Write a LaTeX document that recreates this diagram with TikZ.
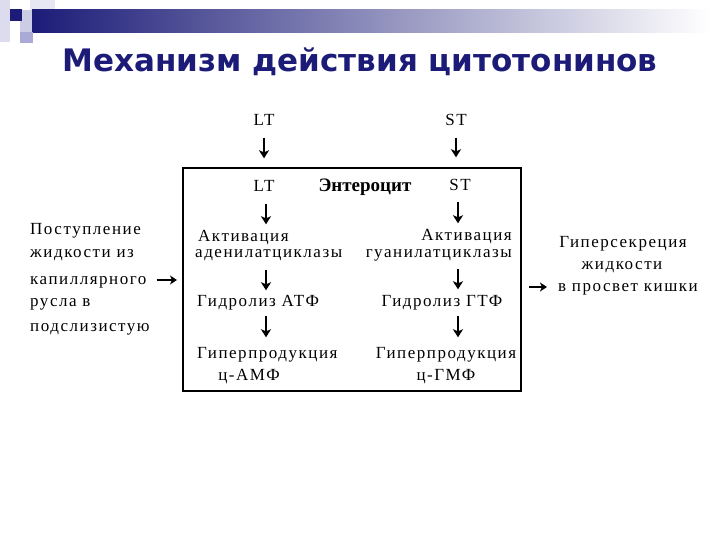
\documentclass[tikz,border=0pt]{standalone}
\usepackage{fontspec}
\setmainfont{Liberation Serif}
\newfontfamily\widefont[LetterSpace=9]{Liberation Serif}
\newfontfamily\titlefont{DejaVu Sans}
\usetikzlibrary{arrows.meta,calc}
\definecolor{navy}{RGB}{28,28,120}
\definecolor{lav}{RGB}{170,170,215}
\definecolor{pale}{RGB}{220,220,238}
\begin{document}
\begin{tikzpicture}[x=1pt,y=-1pt,
  lab/.style={inner sep=0pt, text height=12pt, text depth=3pt, font=\widefont\fontsize{17}{20}\selectfont},
  darr/.style={-{Stealth[length=8pt,width=10pt,inset=2pt]}, line width=2pt},
  harr/.style={-{Stealth[length=7pt,width=9pt,inset=2pt]}, line width=2pt}]
\useasboundingbox (0,0) rectangle (720,540);
% decoration
\fill[pale] (0,0) rectangle (10,42);
\fill[pale!70] (30,0) rectangle (55,20);
\fill[lav!60] (20,10) rectangle (32,33);
\shade[left color=navy, right color=white, middle color=navy!50] (32,10) rectangle (710,33);
\fill[navy] (10,9) rectangle (22,21);
\fill[lav] (20,32) rectangle (33,43);
% title
\node[font=\titlefont\bfseries\fontsize{31}{34}\selectfont, text=navy] (title) at (360,62) {Механизм действия цитотонинов};
% box
\node[draw, line width=2pt, minimum width=338pt, minimum height=223pt, inner sep=0pt] (box) at (352,279.5) {};
\coordinate (cl) at (266,0);
\coordinate (cr) at (458,0);
% outer
\node[lab] (LT1) at (264,121) {LT};
\node[lab] (ST1) at (456,121) {ST};
% inner
\node[lab, font=\bfseries\fontsize{19}{21}\selectfont] (ent) at (365,187) {Энтероцит};
\node[lab] (LT2) at (264,187) {LT};
\node[lab] (ST2) at (460,186) {ST};
\node[lab, anchor=west] (act1) at (198,237) {Активация};
\node[lab, anchor=west] (aden) at (195,253) {аденилатциклазы};
\node[lab, anchor=east] (act2) at (512,236) {Активация};
\node[lab, anchor=east] (guan) at (512,253) {гуанилатциклазы};
\node[lab, anchor=west] (hyd1) at (197,302) {Гидролиз АТФ};
\node[lab] (hyd2) at (442,302) {Гидролиз ГТФ};
\node[lab, anchor=west] (hyp1) at (197,354) {Гиперпродукция};
\node[lab] (camp) at (249,376) {ц-АМФ};
\node[lab] (hyp2) at (446,354) {Гиперпродукция};
\node[lab] (cgmp) at (446,376) {ц-ГМФ};
% left
\node[lab, anchor=west] (l1) at (30,230) {Поступление};
\node[lab, anchor=west] (l2) at (30,253) {жидкости из};
\node[lab, anchor=west] (kap) at (30,280) {капиллярного};
\node[lab, anchor=west] (l4) at (30,302) {русла в};
\node[lab, anchor=west] (l5) at (30,327) {подслизистую};
% right
\node[lab] (r1) at (623,243) {Гиперсекреция};
\node[lab] (r2) at (622,265) {жидкости};
\node[lab] (pros) at (628,287) {в просвет кишки};
% arrows
\draw[darr, shorten <=9pt, shorten >=21pt] (LT1.south) -- (LT2.north);
\draw[darr, shorten <=9pt, shorten >=21pt] (ST1.south) -- (ST1.south |- ST2.north);
\draw[darr, shorten <=9pt, shorten >=5pt] (LT2.south -| cl) -- (act1.north -| cl);
\draw[darr, shorten <=8pt, shorten >=5pt] (ST2.south -| cr) -- (act2.north -| cr);
\draw[darr, shorten <=9pt, shorten >=4pt] (aden.south -| cl) -- (hyd1.north -| cl);
\draw[darr, shorten <=8pt, shorten >=5pt] (guan.south -| cr) -- (hyd2.north -| cr);
\draw[darr, shorten <=6pt, shorten >=9pt] (hyd1.south -| cl) -- (hyp1.north -| cl);
\draw[darr, shorten <=6pt, shorten >=9pt] (hyd2.south -| cr) -- (hyp2.north -| cr);
\draw[harr, shorten <=10pt, shorten >=5pt] (kap.east) -- (kap.east -| box.west);
\draw[harr, shorten <=7pt, shorten >=11pt] (box.east |- pros) -- (pros.west);
\end{tikzpicture}
\end{document}
